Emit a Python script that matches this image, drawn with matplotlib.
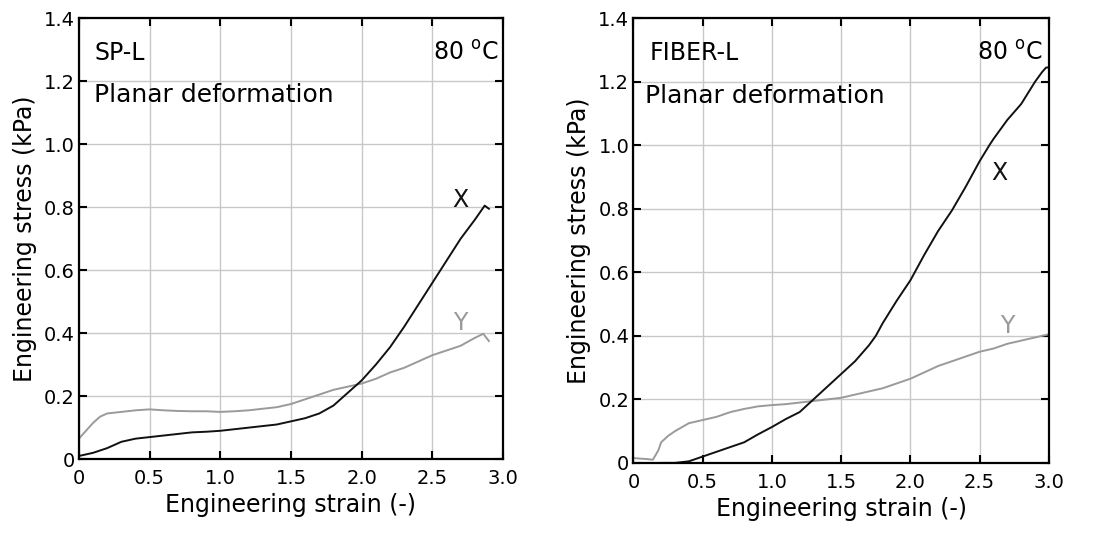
import numpy as np
import matplotlib
matplotlib.use("Agg")
import matplotlib.pyplot as plt

plt.rcParams['font.family'] = ['DejaVu Sans']

# SP-L
sp_strain_x = [0, 0.1, 0.2, 0.3, 0.4, 0.5, 0.6, 0.7, 0.8, 0.9, 1.0, 1.1, 1.2, 1.3, 1.4, 1.5,
               1.6, 1.7, 1.8, 1.9, 2.0, 2.1, 2.2, 2.3, 2.4, 2.5, 2.6, 2.7, 2.8, 2.87, 2.9]
sp_stress_x = [0.01, 0.02, 0.035, 0.055, 0.065, 0.07, 0.075, 0.08, 0.085, 0.087, 0.09, 0.095,
               0.10, 0.105, 0.11, 0.12, 0.13, 0.145, 0.17, 0.21, 0.25, 0.30, 0.355, 0.42, 0.49,
               0.56, 0.63, 0.70, 0.76, 0.805, 0.795]
sp_strain_y = [0, 0.05, 0.1, 0.15, 0.2, 0.3, 0.4, 0.5, 0.6, 0.7, 0.8, 0.9, 1.0, 1.1, 1.2, 1.3,
               1.4, 1.5, 1.6, 1.7, 1.8, 1.9, 2.0, 2.1, 2.2, 2.3, 2.4, 2.5, 2.6, 2.7, 2.8, 2.86, 2.9]
sp_stress_y = [0.065, 0.09, 0.115, 0.135, 0.145, 0.15, 0.155, 0.158, 0.155, 0.153, 0.152, 0.152,
               0.15, 0.152, 0.155, 0.16, 0.165, 0.175, 0.19, 0.205, 0.22, 0.23, 0.24, 0.255,
               0.275, 0.29, 0.31, 0.33, 0.345, 0.36, 0.385, 0.398, 0.375]

# FIBER-L
fb_strain_x = [0.2, 0.3, 0.4, 0.5, 0.6, 0.7, 0.8, 0.9, 1.0, 1.1, 1.2, 1.3, 1.4, 1.5, 1.6, 1.7,
               1.75, 1.8, 1.9, 2.0, 2.1, 2.2, 2.3, 2.4, 2.5, 2.57, 2.6, 2.7, 2.8, 2.9, 2.95, 2.98, 3.0]
fb_stress_x = [0.0, 0.0, 0.005, 0.02, 0.035, 0.05, 0.065, 0.09, 0.113, 0.138, 0.16, 0.2, 0.24,
               0.28, 0.32, 0.37, 0.40, 0.44, 0.51, 0.575, 0.655, 0.73, 0.795, 0.87, 0.95, 1.0,
               1.02, 1.08, 1.13, 1.2, 1.23, 1.245, 1.245]
fb_strain_y = [0, 0.1, 0.14, 0.18, 0.2, 0.25, 0.3, 0.4, 0.5, 0.6, 0.7, 0.8, 0.9, 1.0, 1.1, 1.2,
               1.3, 1.4, 1.5, 1.6, 1.7, 1.8, 1.9, 2.0, 2.1, 2.2, 2.3, 2.4, 2.5, 2.6, 2.7, 2.8, 2.9, 3.0]
fb_stress_y = [0.015, 0.012, 0.01, 0.04, 0.065, 0.085, 0.1, 0.125, 0.135, 0.145, 0.16, 0.17,
               0.178, 0.182, 0.185, 0.19, 0.195, 0.2, 0.205, 0.215, 0.225, 0.235, 0.25, 0.265,
               0.285, 0.305, 0.32, 0.335, 0.35, 0.36, 0.375, 0.385, 0.395, 0.405]

xticks = [0, 0.5, 1.0, 1.5, 2.0, 2.5, 3.0]
xticklabels = ['0', '0.5', '1.0', '1.5', '2.0', '2.5', '3.0']
yticks = [0, 0.2, 0.4, 0.6, 0.8, 1.0, 1.2, 1.4]
yticklabels = ['0', '0.2', '0.4', '0.6', '0.8', '1.0', '1.2', '1.4']

BLACK = '#111111'
GRAY = '#9a9a9a'

fig = plt.figure(figsize=(10.96, 5.37), dpi=100)
ax1 = fig.add_axes([0.072, 0.145, 0.387, 0.821])
ax2 = fig.add_axes([0.578, 0.138, 0.379, 0.828])


def setup(ax):
    ax.set_xlim(0, 3.0)
    ax.set_ylim(0, 1.4)
    ax.set_xticks(xticks)
    ax.set_xticklabels(xticklabels)
    ax.set_yticks(yticks)
    ax.set_yticklabels(yticklabels)
    ax.grid(True, color='#c8c8c8', lw=1.0)
    ax.set_axisbelow(True)
    ax.tick_params(direction='in', length=6, width=1.5, top=True, right=True,
                   labelsize=14)
    ax.tick_params(axis='x', pad=7)
    ax.tick_params(axis='y', pad=3)
    for s in ax.spines.values():
        s.set_linewidth(1.6)
    ax.set_xlabel('Engineering strain (-)', fontsize=17, labelpad=4)
    ax.set_ylabel('Engineering stress (kPa)', fontsize=17, labelpad=5)


# left: SP-L
setup(ax1)
ax1.plot(sp_strain_y, sp_stress_y, color=GRAY, lw=1.4)
ax1.plot(sp_strain_x, sp_stress_x, color=BLACK, lw=1.4)
ax1.text(0.11, 1.29, 'SP-L', fontsize=17, va='center')
ax1.text(0.11, 1.155, 'Planar deformation', fontsize=18, va='center')
ax1.text(2.97, 1.29, '80 $^\\mathrm{o}$C', fontsize=17, va='center', ha='right')
ax1.text(2.70, 0.822, 'X', fontsize=17, va='center', ha='center', color=BLACK)
ax1.text(2.70, 0.432, 'Y', fontsize=17, va='center', ha='center', color=GRAY)

# right: FIBER-L
setup(ax2)
ax2.plot(fb_strain_y, fb_stress_y, color=GRAY, lw=1.4)
ax2.plot(fb_strain_x, fb_stress_x, color=BLACK, lw=1.4)
ax2.text(0.12, 1.29, 'FIBER-L', fontsize=17, va='center')
ax2.text(0.08, 1.155, 'Planar deformation', fontsize=18, va='center')
ax2.text(2.96, 1.29, '80 $^\\mathrm{o}$C', fontsize=17, va='center', ha='right')
ax2.text(2.64, 0.914, 'X', fontsize=17, va='center', ha='center', color=BLACK)
ax2.text(2.70, 0.432, 'Y', fontsize=17, va='center', ha='center', color=GRAY)

fig.savefig('out.png', dpi=100)
